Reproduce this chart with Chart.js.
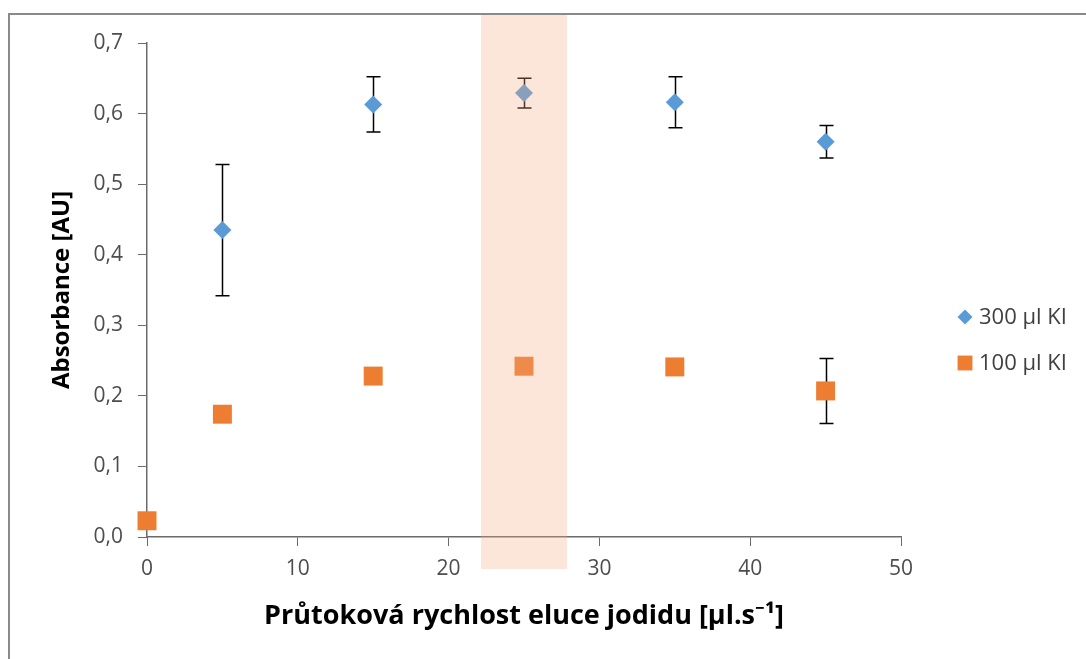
<!DOCTYPE html>
<html>
<head>
<meta charset="utf-8">
<script src="https://cdn.jsdelivr.net/npm/chart.js@4.4.1/dist/chart.umd.min.js"></script>
<style>
  html, body { margin: 0; padding: 0; background: #ffffff; }
  #wrap { width: 1086px; height: 659px; }
</style>
</head>
<body>
<div id="wrap"><canvas id="c" width="1086" height="659"></canvas></div>
<script>
// Flow rate of iodide elution [µl/s]
const flow300 = [5, 15, 25, 35, 45];
const abs300 = [0.435, 0.613, 0.629, 0.616, 0.560];
const err300 = [0.093, 0.039, 0.021, 0.036, 0.023];

const flow100 = [0, 5, 15, 25, 35, 45];
const abs100 = [0.023, 0.174, 0.228, 0.242, 0.241, 0.207];
const err100 = [0, 0, 0, 0, 0, 0.046];

const seriesLabels = ['300 µl KI', '100 µl KI'];
const xTitle = 'Průtoková rychlost eluce jodidu [µl.s⁻¹]';
const yTitle = 'Absorbance [AU]';

// highlighted flow-rate range
const bandRange = [22.15, 27.85];

const FONT = "'Open Sans', 'Noto Sans', sans-serif";
const BLUE = '#5B9BD5';
const ORANGE = '#ED7D31';
const AXIS = '#6b6b6b';
const TEXT = '#4d4d4d';

function toPoints(xs, ys, es) {
  return xs.map((x, i) => ({ x: x, y: ys[i], e: es[i] }));
}

// outer frame and white background
const framePlugin = {
  id: 'frame',
  beforeDraw(chart) {
    const ctx = chart.ctx;
    ctx.save();
    ctx.fillStyle = '#ffffff';
    ctx.fillRect(0, 0, chart.width, chart.height);
    ctx.strokeStyle = '#8a8a8a';
    ctx.lineWidth = 2;
    ctx.strokeRect(9, 14, chart.width + 10, chart.height + 10);
    ctx.restore();
  }
};

// vertical error bars with caps, under the markers
const errorBarPlugin = {
  id: 'errorBars',
  beforeDatasetsDraw(chart) {
    const ctx = chart.ctx;
    const xs = chart.scales.x, ys = chart.scales.y;
    ctx.save();
    ctx.strokeStyle = '#000000';
    ctx.lineWidth = 1.5;
    chart.data.datasets.forEach(ds => {
      ds.data.forEach(p => {
        if (!p.e) return;
        const px = Math.round(xs.getPixelForValue(p.x)) + 0.5;
        const top = ys.getPixelForValue(p.y + p.e);
        const bot = ys.getPixelForValue(p.y - p.e);
        ctx.beginPath();
        ctx.moveTo(px, top); ctx.lineTo(px, bot);
        ctx.moveTo(px - 7, top); ctx.lineTo(px + 7, top);
        ctx.moveTo(px - 7, bot); ctx.lineTo(px + 7, bot);
        ctx.stroke();
      });
    });
    ctx.restore();
  }
};

// translucent highlight band over the chosen flow rate
const bandPlugin = {
  id: 'band',
  afterDatasetsDraw(chart) {
    const ctx = chart.ctx;
    const xs = chart.scales.x;
    const area = chart.chartArea;
    const x0 = xs.getPixelForValue(bandRange[0]);
    const x1 = xs.getPixelForValue(bandRange[1]);
    ctx.save();
    ctx.fillStyle = 'rgba(245, 173, 134, 0.30)';
    ctx.fillRect(x0, area.top - 28, x1 - x0, area.bottom - area.top + 60);
    ctx.restore();
  }
};

// legend at the right-hand side
const legendPlugin = {
  id: 'sideLegend',
  afterDraw(chart) {
    const ctx = chart.ctx;
    const area = chart.chartArea;
    const styles = [
      { pointStyle: 'rectRot', radius: 7.5, color: BLUE },
      { pointStyle: 'rect', radius: 10.5, color: ORANGE }
    ];
    const x = area.right + 64;
    const y0 = 317, gap = 46;
    ctx.save();
    chart.data.datasets.forEach((ds, i) => {
      const y = y0 + i * gap;
      ctx.fillStyle = styles[i].color;
      Chart.helpers.drawPoint(ctx, {
        pointStyle: styles[i].pointStyle, radius: styles[i].radius,
        rotation: 0, borderWidth: 0
      }, x, y);
      ctx.fillStyle = '#404040';
      ctx.font = "22px " + FONT;
      ctx.textBaseline = 'middle';
      ctx.textAlign = 'left';
      ctx.fillText(ds.label, x + 14, y + 1);
    });
    ctx.restore();
  }
};

new Chart(document.getElementById('c'), {
  type: 'scatter',
  data: {
    datasets: [
      {
        label: seriesLabels[0],
        data: toPoints(flow300, abs300, err300),
        pointStyle: 'rectRot',
        pointRadius: 9,
        pointHoverRadius: 9,
        backgroundColor: BLUE,
        borderColor: BLUE,
        borderWidth: 0,
        clip: false
      },
      {
        label: seriesLabels[1],
        data: toPoints(flow100, abs100, err100),
        pointStyle: 'rect',
        pointRadius: 13.4,
        pointHoverRadius: 13.4,
        backgroundColor: ORANGE,
        borderColor: ORANGE,
        borderWidth: 0,
        clip: false
      }
    ]
  },
  options: {
    responsive: false,
    animation: false,
    events: [],
    layout: { padding: { top: 43, right: 185, left: 0, bottom: 0 } },
    plugins: {
      legend: { display: false },
      tooltip: { enabled: false }
    },
    scales: {
      x: {
        type: 'linear',
        min: 0, max: 50,
        afterFit(scale) { scale.height = 122; },
        grid: { drawOnChartArea: false, drawTicks: true, tickLength: 9, color: AXIS },
        border: { display: true, color: AXIS, width: 1.5 },
        ticks: {
          stepSize: 10, padding: 10, color: TEXT,
          font: { family: FONT, size: 21 },
          callback: v => String(v)
        },
        title: {
          display: true, text: xTitle, color: '#000000',
          font: { family: FONT, size: 27, weight: 'bold' },
          padding: { top: 0, bottom: 26 }
        }
      },
      y: {
        type: 'linear',
        min: 0, max: 0.7,
        afterFit(scale) { scale.width = 147; },
        grid: { drawOnChartArea: false, drawTicks: true, tickLength: 9, color: AXIS },
        border: { display: true, color: AXIS, width: 1.5 },
        ticks: {
          stepSize: 0.1, padding: 15, color: TEXT,
          font: { family: FONT, size: 21 },
          callback: v => v.toFixed(1).replace('.', ',')
        },
        title: {
          display: true, text: yTitle, color: '#000000',
          font: { family: FONT, size: 24, weight: 'bold' },
          padding: { top: 48, bottom: 0 }
        }
      }
    }
  },
  plugins: [framePlugin, errorBarPlugin, bandPlugin, legendPlugin]
});
</script>
</body>
</html>
